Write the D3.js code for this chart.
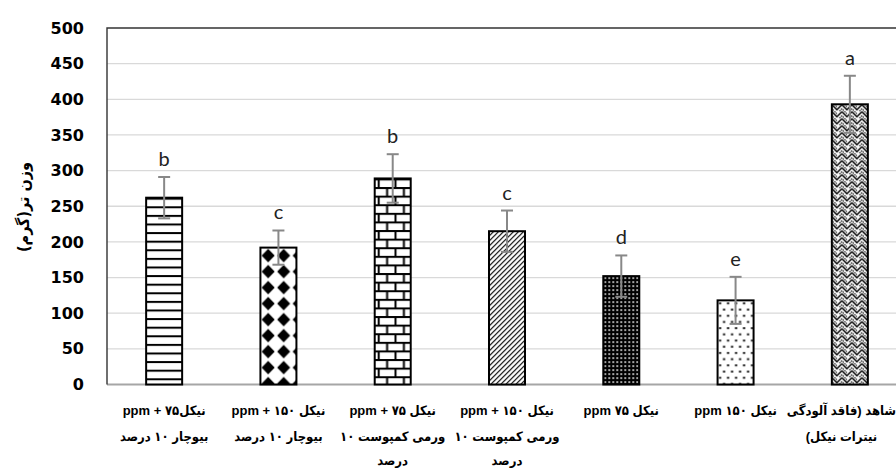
<!DOCTYPE html>
<html>
<head>
<meta charset="utf-8">
<script src="https://cdn.jsdelivr.net/npm/d3@7"></script>
<style>
  body { margin: 0; background: #fff; }
  svg { display: block; }
</style>
</head>
<body>
<svg id="chart" width="896" height="468"></svg>
<script>
// Treatments (each entry = the wrapped lines of one category label)
const categoryLines = [
  ["نیکل۷۵ + ppm", "بیوچار ۱۰ درصد"],
  ["نیکل ۱۵۰ + ppm", "بیوچار ۱۰ درصد"],
  ["نیکل ۷۵ + ppm", "ورمی کمپوست ۱۰", "درصد"],
  ["نیکل ۱۵۰ + ppm", "ورمی کمپوست ۱۰", "درصد"],
  ["نیکل ۷۵ ppm"],
  ["نیکل ۱۵۰ ppm"],
  ["شاهد (فاقد آلودگی", "نیترات نیکل)"]
];
// Fresh weight (g) and its standard error
const freshWeight = [262, 192, 289, 215, 152, 118, 393];
const errorSize   = [29, 24, 34, 29, 29, 33, 40];
// Mean-comparison letters
const groupLetters = ["b", "c", "b", "c", "d", "e", "a"];
// Y axis
const yTicks = [0, 50, 100, 150, 200, 250, 300, 350, 400, 450, 500];
const yTitle = "وزن تر(گرم)";
// Hatch fill used for each bar
const fillNames = ["hlines", "diamonds", "bricks", "diagonal", "grid", "dots", "zigzag"];

const W = 896, H = 468;
const plot = { left: 107, right: 907, top: 28, bottom: 384.5 };
const svg = d3.select("#chart");
svg.append("rect").attr("width", W).attr("height", H).attr("fill", "#fff");

const x = d3.scaleBand()
  .domain(d3.range(categoryLines.length))
  .range([plot.left, plot.right])
  .paddingInner(0.685)
  .paddingOuter(0.3425);
const y = d3.scaleLinear().domain([0, 500]).range([plot.bottom, plot.top]);

// ---- hatch patterns ----
const defs = svg.append("defs");
const patternMakers = {
  hlines(p) {
    p.attr("width", 8).attr("height", 8.6);
    p.append("rect").attr("width", 8).attr("height", 8.6).attr("fill", "#fff");
    p.append("rect").attr("y", 0).attr("width", 8).attr("height", 2).attr("fill", "#000");
  },
  diamonds(p) {
    p.attr("width", 15.5).attr("height", 16);
    p.append("rect").attr("width", 15.5).attr("height", 16).attr("fill", "#fff");
    p.append("path").attr("d", "M7.75,1.2 L14.3,8 L7.75,14.8 L1.2,8 Z").attr("fill", "#000");
  },
  bricks(p) {
    p.attr("width", 16.8).attr("height", 17.2);
    p.append("rect").attr("width", 16.8).attr("height", 17.2).attr("fill", "#fff");
    p.append("rect").attr("y", 0).attr("width", 16.8).attr("height", 2).attr("fill", "#000");
    p.append("rect").attr("y", 8.6).attr("width", 16.8).attr("height", 2).attr("fill", "#000");
    p.append("rect").attr("x", 3).attr("y", 0).attr("width", 2).attr("height", 8.6).attr("fill", "#000");
    p.append("rect").attr("x", 11.4).attr("y", 8.6).attr("width", 2).attr("height", 8.6).attr("fill", "#000");
  },
  diagonal(p) {
    p.attr("width", 5).attr("height", 5);
    p.append("rect").attr("width", 5).attr("height", 5).attr("fill", "#fff");
    p.append("path").attr("d", "M0,5 L5,0 M-1.5,1.5 L1.5,-1.5 M3.5,6.5 L6.5,3.5")
      .attr("stroke", "#000").attr("stroke-width", 1.2);
  },
  grid(p) {
    p.attr("width", 4).attr("height", 4);
    p.append("rect").attr("width", 4).attr("height", 4).attr("fill", "#000");
    p.append("rect").attr("x", 1.2).attr("y", 1.2).attr("width", 1.6).attr("height", 1.6).attr("fill", "#fff");
  },
  dots(p) {
    p.attr("width", 8).attr("height", 12.4);
    p.append("rect").attr("width", 8).attr("height", 12.4).attr("fill", "#fff");
    p.append("rect").attr("x", 1.5).attr("y", 2).attr("width", 2).attr("height", 2).attr("fill", "#000");
    p.append("rect").attr("x", 5.5).attr("y", 8.2).attr("width", 2).attr("height", 2).attr("fill", "#000");
  },
  zigzag(p) {
    p.attr("width", 10).attr("height", 7);
    p.append("rect").attr("width", 10).attr("height", 7).attr("fill", "#fff");
    p.append("path").attr("d", "M0,0.5 L5,5.5 L10,0.5")
      .attr("stroke", "#000").attr("stroke-width", 1.5).attr("fill", "none");
    p.append("path").attr("d", "M2.5,0 L5,2.5 M7.5,7 L10,4.5 L12.5,7 M-2.5,7 L0,4.5 L2.5,7")
      .attr("stroke", "#000").attr("stroke-width", 1.1).attr("fill", "none")
      .attr("stroke-dasharray", "1.5,0.8");
  }
};
fillNames.forEach((name, i) => {
  const p = defs.append("pattern")
    .attr("id", "fill-" + i)
    .attr("patternUnits", "userSpaceOnUse")
    .attr("x", x(i))
    .attr("y", y(freshWeight[i]));
  patternMakers[name](p);
});

// ---- gridlines ----
svg.append("g")
  .selectAll("line")
  .data(yTicks.filter(t => t > 0 && t < 500))
  .join("line")
  .attr("x1", plot.left).attr("x2", W)
  .attr("y1", d => y(d)).attr("y2", d => y(d))
  .attr("stroke", "#d9d9d9").attr("stroke-width", 1.3);

// baseline
svg.append("line")
  .attr("x1", plot.left).attr("x2", W)
  .attr("y1", y(0)).attr("y2", y(0))
  .attr("stroke", "#a6a6a6").attr("stroke-width", 1.8);

// plot frame (left and top edges)
svg.append("path")
  .attr("d", `M${plot.left},${y(0)} V${y(500)} H${W}`)
  .attr("fill", "none").attr("stroke", "#333").attr("stroke-width", 1.4);

// ---- y axis labels ----
const yAxis = svg.append("g")
  .attr("transform", `translate(${plot.left},0)`)
  .call(d3.axisLeft(y).tickValues(yTicks).tickSize(0).tickPadding(23));
yAxis.select(".domain").remove();
yAxis.selectAll("text")
  .attr("font-family", "'DejaVu Sans', sans-serif")
  .attr("font-weight", "bold")
  .attr("font-size", 16)
  .attr("fill", "#000");

svg.append("text")
  .attr("transform", "translate(23,207) rotate(-90)")
  .attr("text-anchor", "middle")
  .attr("dominant-baseline", "central")
  .attr("direction", "rtl")
  .attr("font-family", "'DejaVu Sans Condensed', 'DejaVu Sans', sans-serif")
  .attr("font-weight", "bold")
  .attr("font-size", 16)
  .attr("fill", "#000")
  .text(yTitle);

// ---- bars ----
svg.append("g")
  .selectAll("rect")
  .data(freshWeight)
  .join("rect")
  .attr("x", (d, i) => x(i))
  .attr("y", d => y(d))
  .attr("width", x.bandwidth())
  .attr("height", d => y(0) - y(d))
  .attr("fill", (d, i) => `url(#fill-${i})`)
  .attr("stroke", "#000")
  .attr("stroke-width", 2);

// ---- error bars ----
const eb = svg.append("g").attr("stroke", "#888").attr("stroke-width", 2);
freshWeight.forEach((v, i) => {
  const cx = x(i) + x.bandwidth() / 2;
  const e = errorSize[i];
  eb.append("line").attr("x1", cx).attr("x2", cx).attr("y1", y(v + e)).attr("y2", y(v - e));
  eb.append("line").attr("x1", cx - 6).attr("x2", cx + 6).attr("y1", y(v + e)).attr("y2", y(v + e));
  eb.append("line").attr("x1", cx - 6).attr("x2", cx + 6).attr("y1", y(v - e)).attr("y2", y(v - e));
});

// ---- letters ----
svg.append("g")
  .selectAll("text")
  .data(groupLetters)
  .join("text")
  .attr("x", (d, i) => x(i) + x.bandwidth() / 2)
  .attr("y", (d, i) => y(freshWeight[i] + errorSize[i]) - 11)
  .attr("text-anchor", "middle")
  .attr("font-family", "Lato, 'Open Sans', sans-serif")
  .attr("font-size", 20)
  .attr("fill", "#222")
  .text(d => d);

// ---- category labels ----
const lineY = [415, 441, 465];
categoryLines.forEach((lines, i) => {
  const cx = x(i) + x.bandwidth() / 2;
  const g = svg.append("g");
  const texts = lines.map((ln, k) => g.append("text")
    .attr("x", cx)
    .attr("y", lineY[k])
    .attr("text-anchor", "middle")
    .attr("direction", "rtl")
    .attr("font-family", "'Liberation Sans', 'DejaVu Sans Condensed', 'DejaVu Sans', sans-serif")
    .attr("font-weight", "bold")
    .attr("font-size", 13)
    .attr("fill", "#000")
    .text(ln));
  const maxW = d3.max(texts, t => t.node().getComputedTextLength());
  const over = cx + maxW / 2 - W;
  if (over > 0) texts.forEach(t => t.attr("x", cx - over));
});
</script>
</body>
</html>
